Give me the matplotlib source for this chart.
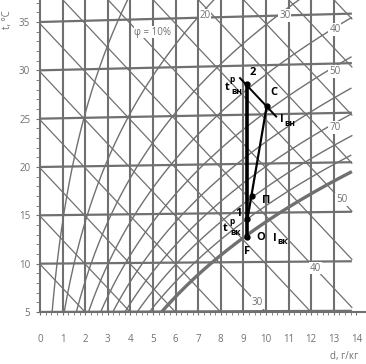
import matplotlib
matplotlib.use('Agg')

import numpy as np
import matplotlib.pyplot as plt

plt.rcParams['font.family'] = ['Open Sans', 'DejaVu Sans']

# сетка диаграммы
d_lines = [1, 2, 3, 4, 5, 6, 7, 8, 9, 10, 11, 12, 13]
t_lines = [5, 10, 15, 20, 25, 30, 35]
i_lines = [5, 10, 15, 20, 25, 30, 35, 40, 45, 50, 55, 60, 65, 70, 75]
phi_lines = [10, 20, 30, 40, 50, 60, 70, 80, 90, 100]

# подписи энтальпии (кДж/кг) и влажности на линиях
i_labels = ['30', '40', '50']
i_label_d = [9.62, 12.2, 13.36]
i_label_Y = [5.98, 9.55, 16.6]
phi_labels = ['φ = 10%', '20', '30', '40', '50', '70']
phi_label_d = [5.0, 7.3, 10.84, 13.05, 13.05, 13.05]
phi_label_Y = [33.96, 35.7, 35.7, 34.2, 29.86, 24.1]

# точки процесса: d, г/кг и t, °C
pt_names = ['2', 'C', 'П', '1', 'F']
pt_d = [9.15, 10.03, 9.36, 9.18, 9.15]
pt_t = [28.1, 25.8, 16.7, 14.4, 12.6]

P = 101.325
D_MAX = 13.8
GRAY = '#707070'


def Y(t, d):
    # вертикальная координата косоугольной i-d диаграммы
    return t * (1 + 0.001791 * d)


def p_sat(t):
    return 0.6112 * np.exp(17.62 * t / (243.12 + t))


fig = plt.figure(figsize=(3.66, 3.64), dpi=100)
ax = fig.add_axes([40 / 366, 52 / 364, 326 / 366, 312 / 364])
xmax = 326 / 22.6
ymax = 5 + 312 / 9.667
ax.set_xlim(0, xmax)
ax.set_ylim(5, ymax)

for d in d_lines:
    ax.plot([d, d], [5, ymax], color=GRAY, lw=1.5, solid_capstyle='butt', zorder=1)

dd = np.linspace(0, D_MAX, 50)
for t in t_lines:
    ax.plot(dd, Y(t, dd), color=GRAY, lw=1.6, solid_capstyle='butt', zorder=1)

for i in i_lines:
    ax.plot(dd, (i - 2.5 * dd) / 1.005, color=GRAY, lw=0.9, zorder=1)

tt = np.linspace(4, 40, 400)
for phi in phi_lines:
    ps = p_sat(tt) * phi / 100
    dp = 622 * ps / (P - ps)
    m = dp <= D_MAX
    lw = 2.4 if phi == 100 else 1.0
    ax.plot(dp[m], Y(tt[m], dp[m]), color=GRAY, lw=lw, zorder=1)

box = dict(facecolor='white', edgecolor='none', pad=0.6)
for s, x, y in zip(i_labels, i_label_d, i_label_Y):
    ax.text(x, y, s, color=GRAY, fontsize=7, ha='center', va='center', bbox=box, zorder=3)
for s, x, y in zip(phi_labels, phi_label_d, phi_label_Y):
    ax.text(x, y, s, color=GRAY, fontsize=7, ha='center', va='center', bbox=box, zorder=3)

# процесс
px = dict(zip(pt_names, pt_d))
py = {n: Y(t, d) for n, t, d in zip(pt_names, pt_t, pt_d)}
ax.plot([px['2'], px['F']], [py['2'], py['F']], color='black', lw=2.6, zorder=4)
ax.plot([px['C'], px['1']], [py['C'], py['1']], color='black', lw=1.6, zorder=4)
i_c = 1.005 * pt_t[1] + pt_d[1] * (2.5 + 0.0018 * pt_t[1])
di = np.array([8.85, 10.45])
ax.plot(di, (i_c - 2.5 * di) / 1.005, color='black', lw=1.4, zorder=4)
ax.plot(pt_d, [py[n] for n in pt_names], 'o', color='black', ms=3.5, zorder=5)


def lab(name, s, dx, dy, size=8):
    ax.annotate(s, (px[name], py[name]), xytext=(dx * 0.72, dy * 0.72),
                textcoords='offset points', ha='center', va='center',
                fontsize=size, fontweight='bold', color='black', zorder=6)


lab('2', '2', 6, 12)
lab('C', 'C', 7, 13.5)
lab('C', 'I', 15, -13)
lab('C', 'вн', 23, -17, 6)
lab('2', 't', -20, -3)
lab('2', 'р', -14.5, 5, 6)
lab('2', 'вн', -10, -7, 6)
lab('1', '1', -9, 5)
lab('1', 't', -22, -10)
lab('1', 'р', -15, -3, 6)
lab('1', 'вк', -12, -14, 6)
lab('П', 'П', 15, -4)
lab('F', 'O', 14, -1)
lab('F', 'I', 28, -2)
lab('F', 'вк', 36, -4.5, 6)
lab('F', 'F', 0, -15)

for sp in ['top', 'right']:
    ax.spines[sp].set_visible(False)
for sp in ['left', 'bottom']:
    ax.spines[sp].set_color(GRAY)
    ax.spines[sp].set_linewidth(1.5)

ax.set_xticks(range(0, 15))
ax.set_xticks(np.arange(0, 14.01, 0.25), minor=True)
ax.set_yticks(t_lines)
ax.set_yticks(range(5, 38), minor=True)
ax.tick_params(axis='x', which='both', colors=GRAY, labelsize=7, length=2.5, pad=13)
ax.tick_params(axis='y', which='both', colors=GRAY, labelsize=7, length=3, pad=4)

fig.text(7.5 / 366, 1 - 20 / 364, 't, °C', rotation=90, color=GRAY, fontsize=7,
         ha='center', va='center')
fig.text(344 / 366, 1 - 356 / 364, 'd, г/кг', color=GRAY, fontsize=7,
         ha='center', va='center')

fig.savefig('out.png', dpi=100)
